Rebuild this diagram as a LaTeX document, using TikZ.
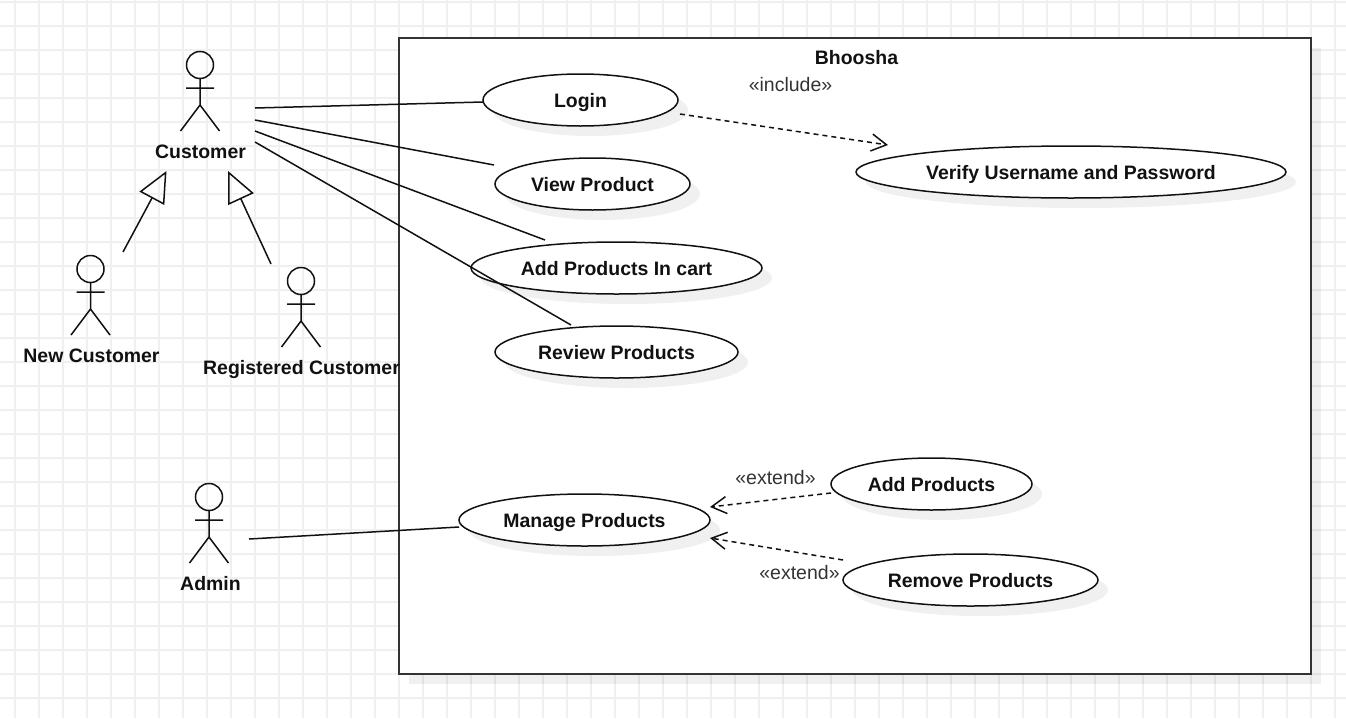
\documentclass[tikz,border=0pt]{standalone}
\usepackage{fontspec}
\setmainfont{Liberation Sans}
\usetikzlibrary{shapes.geometric,arrows.meta,shadows}
\definecolor{gridc}{HTML}{F0F0F0}
\definecolor{inkc}{HTML}{111111}
\definecolor{labelc}{HTML}{333333}
\tikzset{
  softshadow/.style={drop shadow={shadow xshift=10pt,shadow yshift=-10pt,opacity=0.06,fill=black}},
  usecase/.style={shape=ellipse,draw=inkc,fill=white,line width=1.5pt,inner sep=0pt,outer sep=0pt,
    softshadow,text=inkc,text height=14pt,text depth=0pt,font=\fontsize{19.45}{23}\selectfont\bfseries},
  boldlabel/.style={text=inkc,inner sep=0pt,text height=14pt,text depth=0pt,font=\fontsize{19.45}{23}\selectfont\bfseries},
  stereo/.style={text=labelc,inner sep=0pt,text height=14pt,text depth=0pt,font=\fontsize{19.5}{23}\selectfont},
  assoc/.style={draw=inkc,line width=1.5pt},
  dep/.style={draw=inkc,line width=1.5pt,dash pattern=on 5pt off 4pt,-{Straight Barb[length=15pt,width=17pt,line width=1.5pt]}},
  gen/.style={draw=inkc,line width=1.5pt,-{Triangle[open,length=31pt,width=28pt,line width=1.5pt]}},
  actorman/.pic={
    \draw[draw=inkc,line width=1.5pt,line cap=butt]
      (0,0) circle[radius=13.5]
      (0,13.5) -- (0,40)
      (-14,23) -- (14,23)
      (-19.5,66) -- (0,40) -- (19.5,66);
  }
}
\begin{document}
\begin{tikzpicture}[x=1pt,y=-1pt]
\useasboundingbox (0,0) rectangle (1346,718);
\fill[white] (0,0) rectangle (1346,718);
% grid
\foreach \gx in {15,39,...,1335} \draw[gridc,line width=1.4pt] (\gx,0) -- (\gx,718);
\foreach \gy in {2,26,...,698} \draw[gridc,line width=1.4pt] (0,\gy) -- (1346,\gy);
% system boundary
\node[shape=rectangle,draw=labelc,fill=white,line width=2pt,inner sep=0pt,outer sep=0pt,softshadow,
  minimum width=912pt,minimum height=636pt] (frame) at (855,355.75) {};
\node[boldlabel] (title) at (856.5,57) {Bhoosha};
% use cases
\node[usecase,minimum width=195pt,minimum height=52pt] (login) at (580.5,100) {Login};
\node[usecase,minimum width=195pt,minimum height=52pt] (view) at (592.5,184) {View Product};
\node[usecase,minimum width=291pt,minimum height=52pt] (addcart) at (616.5,268) {Add Products In cart};
\node[usecase,minimum width=243pt,minimum height=52pt] (review) at (616.5,352) {Review Products};
\node[usecase,minimum width=430pt,minimum height=52pt] (verify) at (1071,172) {Verify Username and Password};
\node[usecase,minimum width=251pt,minimum height=52pt] (manage) at (584.5,520) {Manage Products};
\node[usecase,minimum width=201pt,minimum height=52pt] (addprod) at (931.5,484) {Add Products};
\node[usecase,minimum width=255pt,minimum height=52pt] (remprod) at (970.5,580) {Remove Products};
% actors
\pic at (200,65) {actorman};
\pic at (90.5,269) {actorman};
\pic at (301,281) {actorman};
\pic at (209,497) {actorman};
\node[boldlabel] (customer) at (200.5,151) {Customer};
\node[boldlabel] (newcust) at (91.5,355) {New Customer};
\node[boldlabel] (regcust) at (301.5,367) {Registered Customer};
\node[boldlabel] (admin) at (210.5,583) {Admin};
% connector free ends
\coordinate (custA) at (255,108);
\coordinate (custB) at (255,120);
\coordinate (custC) at (255,131);
\coordinate (custD) at (255,142);
\coordinate (newTop) at (123,252);
\coordinate (regTop) at (271,264);
\coordinate (custTipL) at (166.5,171);
\coordinate (custTipR) at (228,171);
\coordinate (adminR) at (249,539);
% associations
\draw[assoc] (custA) -- ([shift={(-97.5,2)}]login.center);
\draw[assoc] (custB) -- ([shift={(-98.5,-19)}]view.center);
\draw[assoc] (custC) -- ([shift={(-71.5,-28)}]addcart.center);
\draw[assoc] (custD) -- ([shift={(-45.5,-27)}]review.center);
\draw[assoc] (adminR) -- ([shift={(-125.5,7)}]manage.center);
% generalisations
\draw[gen] (newTop) -- (custTipL);
\draw[gen] (regTop) -- (custTipR);
% dependencies
\draw[dep] ([shift={(99.5,14)}]login.center) -- ([shift={(-183,-27)}]verify.center);
\draw[dep] ([shift={(-100.5,9)}]addprod.center) -- ([shift={(125.5,-13)}]manage.center);
\draw[dep] ([shift={(-127.5,-20)}]remprod.center) -- ([shift={(125.5,18)}]manage.center);
% stereotypes
\node[stereo] (incl) at (790.5,84) {«include»};
\node[stereo] (ext1) at (775.5,477) {«extend»};
\node[stereo] (ext2) at (799.5,572) {«extend»};
\end{tikzpicture}
\end{document}
